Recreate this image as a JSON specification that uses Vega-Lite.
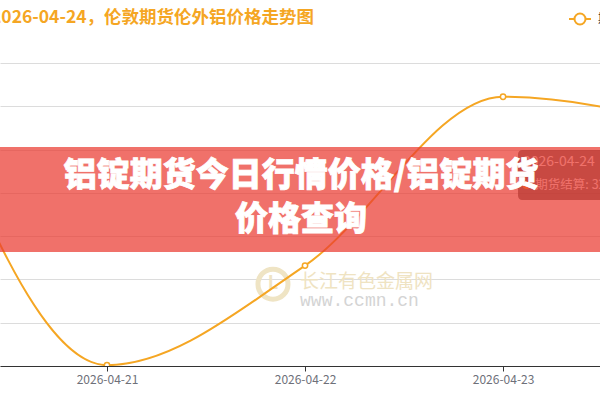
{
  "$schema": "https://vega.github.io/schema/vega-lite/v6.json",
  "width": 600,
  "height": 303,
  "autosize": {"type": "none"},
  "padding": {"left": 0, "right": 0, "top": 63, "bottom": 34},
  "background": "white",
  "title": {
    "text": "2026-04-24，伦敦期货伦外铝价格走势图",
    "anchor": "start",
    "frame": "group",
    "color": "#f5a623",
    "font": "Noto Sans CJK SC",
    "fontSize": 17.5,
    "fontWeight": "bold",
    "dx": -9,
    "offset": -19
  },
  "config": {
    "view": {"stroke": null},
    "font": "Noto Sans CJK SC"
  },
  "datasets": {
    "prices": [
      {"date": "2026-04-20T00:00:00Z", "value": 3340, "series": "期货结算"},
      {"date": "2026-04-21T00:00:00Z", "value": 2951, "series": "期货结算"},
      {"date": "2026-04-22T00:00:00Z", "value": 3066, "series": "期货结算"},
      {"date": "2026-04-23T00:00:00Z", "value": 3261, "series": "期货结算"},
      {"date": "2026-04-24T00:00:00Z", "value": 3224, "series": "期货结算"}
    ],
    "banner": [
      {"date": "2026-04-19T00:00:00Z", "date2": "2026-04-25T00:00:00Z", "value": 3203, "value2": 3081.6}
    ],
    "bannerText": [
      {"date": "2026-04-21T23:31:00Z", "value": 3169.4, "label": "铝锭期货今日行情价格/铝锭期货"},
      {"date": "2026-04-21T23:31:00Z", "value": 3118.6, "label": "价格查询"}
    ],
    "tipBox": [
      {"date": "2026-04-23T01:49:00Z", "date2": "2026-04-24T12:00:00Z", "value": 3199.4, "value2": 3141.7}
    ],
    "tipText": [
      {"date": "2026-04-23T02:25:00Z", "value": 3185.6, "label": "2026-04-24", "size": 14},
      {"date": "2026-04-23T03:55:00Z", "value": 3159, "label": "期货结算: 3224", "size": 12.5}
    ],
    "tipMarker": [
      {"date": "2026-04-23T02:50:00Z", "value": 3159}
    ],
    "logo": [
      {"date": "2026-04-21T20:07:00Z", "value": 3044.5}
    ],
    "wmText": [
      {"date": "2026-04-21T23:24:00Z", "value": 3047, "label": "长江有色金属网"}
    ],
    "wmUrl": [
      {"date": "2026-04-21T23:24:00Z", "value": 3024.9, "label": "www.ccmn.cn"}
    ]
  },
  "encoding": {
    "x": {
      "field": "date",
      "type": "temporal",
      "scale": {
        "type": "utc",
        "domain": [
          {"year": 2026, "month": 4, "date": 20, "hours": 11, "minutes": 2, "utc": true},
          {"year": 2026, "month": 4, "date": 23, "hours": 11, "minutes": 45, "utc": true}
        ]
      },
      "axis": {
        "title": null,
        "values": [
          {"year": 2026, "month": 4, "date": 21, "utc": true},
          {"year": 2026, "month": 4, "date": 22, "utc": true},
          {"year": 2026, "month": 4, "date": 23, "utc": true}
        ],
        "format": "%Y-%m-%d",
        "grid": false,
        "domainColor": "#333333",
        "domainWidth": 1,
        "tickColor": "#333333",
        "tickSize": 5,
        "labelColor": "#6e7079",
        "labelFontSize": 12,
        "labelFont": "Noto Sans CJK SC",
        "labelPadding": 3
      }
    },
    "y": {
      "field": "value",
      "type": "quantitative",
      "scale": {"domain": [2950, 3300], "zero": false, "nice": false},
      "axis": {
        "title": null,
        "values": [2950, 3000, 3050, 3100, 3150, 3200, 3250, 3300],
        "labels": false,
        "ticks": false,
        "domain": false,
        "grid": true,
        "gridColor": "#dcdcdc",
        "gridWidth": 1
      }
    }
  },
  "layer": [
    {
      "data": {"name": "logo"},
      "mark": {"type": "point", "shape": "circle", "filled": false, "size": 900, "strokeWidth": 5, "color": "#efe4c4", "opacity": 1}
    },
    {
      "data": {"name": "logo"},
      "mark": {"type": "text", "text": "L", "fontSize": 18, "fontWeight": "bold", "color": "#efe4c4", "align": "center", "baseline": "middle"}
    },
    {
      "data": {"name": "wmText"},
      "mark": {"type": "text", "align": "left", "baseline": "middle", "fontSize": 19, "color": "#efe3c2", "font": "Noto Sans CJK SC"},
      "encoding": {"text": {"field": "label"}}
    },
    {
      "data": {"name": "wmUrl"},
      "mark": {"type": "text", "align": "left", "baseline": "middle", "fontSize": 18, "color": "#d4d4d4", "font": "Liberation Mono"},
      "encoding": {"text": {"field": "label"}}
    },
    {
      "data": {"name": "prices"},
      "mark": {"type": "line", "interpolate": "monotone", "strokeWidth": 2, "clip": true},
      "encoding": {
        "color": {
          "field": "series",
          "type": "nominal",
          "scale": {"range": ["#f5a623"]},
          "legend": {
            "title": null,
            "orient": "none",
            "legendX": 568,
            "legendY": -56,
            "symbolType": "M-1,0H-0.5M0.5,0H1M0.5,0A0.5,0.5,0,1,1,-0.5,0A0.5,0.5,0,1,1,0.5,0Z",
            "symbolSize": 484,
            "symbolStrokeWidth": 2,
            "symbolFillColor": "white",
            "symbolStrokeColor": "#f5a623",
            "labelFontSize": 12,
            "labelColor": "#333333",
            "labelFont": "Noto Sans CJK SC",
            "labelOffset": 6
          }
        }
      }
    },
    {
      "data": {"name": "prices"},
      "mark": {"type": "point", "shape": "circle", "filled": true, "fill": "white", "stroke": "#f5a623", "strokeWidth": 1.5, "size": 28, "opacity": 1, "clip": true}
    },
    {
      "data": {"name": "tipBox"},
      "mark": {"type": "rect", "color": "rgba(50,50,50,0.7)", "cornerRadius": 4, "clip": true},
      "encoding": {"x2": {"field": "date2"}, "y2": {"field": "value2"}}
    },
    {
      "data": {"name": "tipMarker"},
      "mark": {"type": "point", "shape": "circle", "filled": true, "color": "#f5a623", "size": 60, "opacity": 1}
    },
    {
      "data": {"name": "tipText"},
      "mark": {"type": "text", "align": "left", "baseline": "middle", "color": "white", "font": "Noto Sans CJK SC"},
      "encoding": {"text": {"field": "label"}, "size": {"field": "size", "type": "quantitative", "scale": null, "legend": null}}
    },
    {
      "data": {"name": "banner"},
      "mark": {"type": "rect", "color": "rgb(234,58,48)", "opacity": 0.72, "clip": true},
      "encoding": {"x2": {"field": "date2"}, "y2": {"field": "value2"}}
    },
    {
      "data": {"name": "bannerText"},
      "mark": {"type": "text", "align": "center", "baseline": "middle", "color": "white", "fontSize": 33, "fontWeight": 900, "font": "Noto Sans CJK SC", "stroke": "white", "strokeWidth": 0.8},
      "encoding": {"text": {"field": "label"}}
    }
  ]
}
